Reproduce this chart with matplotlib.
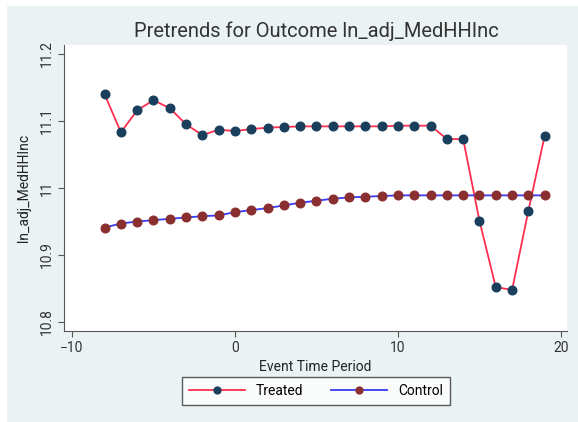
import matplotlib.pyplot as plt
from matplotlib.patches import Rectangle

plt.rcParams['font.family'] = ['Roboto', 'DejaVu Sans']

# Dados
periods = list(range(-8, 20))
treated = [11.140, 11.083, 11.116, 11.131, 11.119, 11.095, 11.079, 11.087,
           11.085, 11.088, 11.090, 11.091, 11.092, 11.092, 11.092, 11.092,
           11.092, 11.092, 11.093, 11.093, 11.093, 11.073, 11.073, 10.951,
           10.852, 10.848, 10.966, 11.078]
control = [10.941, 10.947, 10.950, 10.952, 10.954, 10.956, 10.958, 10.959,
           10.964, 10.967, 10.970, 10.974, 10.978, 10.981, 10.984, 10.986,
           10.987, 10.988, 10.989, 10.989, 10.989, 10.989, 10.989, 10.989,
           10.989, 10.989, 10.989, 10.989]
xticks = [-10, 0, 10, 20]
yticks = [10.8, 10.9, 11.0, 11.1, 11.2]
ylabels = ['10.8', '10.9', '11', '11.1', '11.2']

fig = plt.figure(figsize=(5.78, 4.22), dpi=100, facecolor='white')
fig.patches.append(Rectangle((7 / 578, 0), 1, 1 - 6 / 422, transform=fig.transFigure,
                             facecolor='#EAF2F3', edgecolor='none', zorder=-10))
ax = fig.add_axes([64 / 578, 1 - 331 / 422, (567 - 64) / 578, (331 - 45) / 422])
ax.set_facecolor('white')

ax.plot(periods, treated, color='#FF2E4D', lw=1.3, marker='o', ms=6.2,
        mfc='#1A3F5C', mec='#1A3F5C', label='Treated')
ax.plot(periods, control, color='#3A3AF5', lw=1.3, marker='o', ms=6.2,
        mfc='#8A2F2F', mec='#8A2F2F', label='Control')

ax.set_xlim(-10.49, 20.37)
ax.set_ylim(10.7866, 11.2134)
ax.set_xticks(xticks)
ax.set_yticks(yticks)
ax.set_yticklabels(ylabels, rotation=90, va='center')
ax.tick_params(labelsize=10, colors='#333333', length=4, color='#555555')
for s in ['top', 'right']:
    ax.spines[s].set_visible(False)
for s in ['left', 'bottom']:
    ax.spines[s].set_color('#555555')

ax.set_xlabel('Event Time Period', fontsize=10, color='#222222', labelpad=3)
ax.set_ylabel('ln_adj_MedHHInc', fontsize=10, color='#222222', labelpad=6)
fig.text(316 / 578, 1 - 31 / 422, 'Pretrends for Outcome ln_adj_MedHHInc',
         ha='center', va='center', fontsize=14.5, color='#333333')

leg = fig.legend(loc='center', bbox_to_anchor=(316 / 578, 1 - 391 / 422), ncol=2,
                 fontsize=10, frameon=True, fancybox=False, edgecolor='#333333',
                 handlelength=4, columnspacing=2.0, borderpad=0.5, markerscale=0.8)
leg.get_frame().set_linewidth(1)

plt.savefig('out.png', dpi=100, facecolor=fig.get_facecolor())
